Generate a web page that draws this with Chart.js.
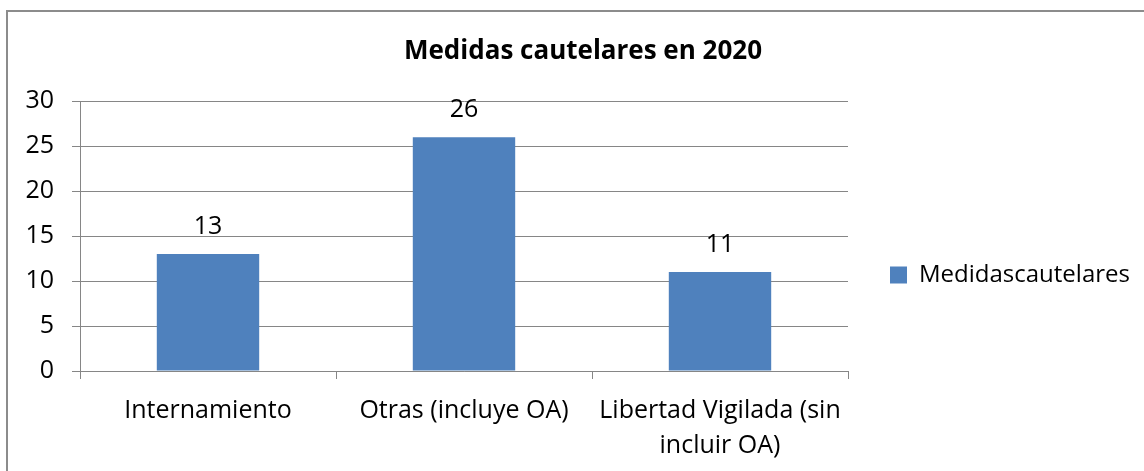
<!DOCTYPE html>
<html><head><meta charset="utf-8">
<script src="https://cdn.jsdelivr.net/npm/chart.js@4.4.1/dist/chart.umd.min.js"></script>
<style>
html,body{margin:0;padding:0;background:#fff;overflow:hidden;width:1144px;height:471px;}
#wrap{position:absolute;left:0;top:0;width:1200px;height:560px;}
#frame{position:absolute;left:6px;top:10px;width:1200px;height:520px;border:2px solid #8c8c8c;pointer-events:none;}
</style></head><body>
<div id="wrap"><canvas id="c" width="1200" height="560"></canvas></div>
<div id="frame"></div>
<script>
const chartTitle = 'Medidas cautelares en 2020';
const categories = ['Internamiento', 'Otras (incluye OA)', ['Libertad Vigilada (sin', 'incluir OA)']];
const seriesName = 'Medidascautelares';
const values = [13, 26, 11];
const yMin = 0, yMax = 30, yStep = 5;

const FONT = '"Open Sans", "Noto Sans", sans-serif';
const GRID = '#868686';
const TICK_SIZE = 25, LEGEND_SIZE = 24, BOX = 17, LEG_PAD = 42;

// layout targets (canvas px)
const CANVAS_W = 1200;
const PLOT_LEFT = 80, PLOT_RIGHT = 848, TITLE_CENTER = 583;

const mctx = document.createElement('canvas').getContext('2d');
mctx.font = LEGEND_SIZE + 'px ' + FONT;
const legendTextW = mctx.measureText(seriesName).width;
mctx.font = TICK_SIZE + 'px ' + FONT;
const widestY = mctx.measureText(String(yMax)).width;

const legendW = LEG_PAD + BOX + LEGEND_SIZE / 2 + legendTextW + 2;
const rightEdge = PLOT_RIGHT + legendW;          // W - R
const padRight = CANVAS_W - rightEdge;
const padLeft = 2 * TITLE_CENTER - rightEdge;    // centers title
const yAxisW = PLOT_LEFT - padLeft;

const valueLabels = {
  id: 'valueLabels',
  afterDatasetsDraw(chart) {
    const ctx = chart.ctx;
    const meta = chart.getDatasetMeta(0);
    const data = chart.data.datasets[0].data;
    ctx.save();
    ctx.font = TICK_SIZE + 'px ' + FONT;
    ctx.fillStyle = '#000';
    ctx.textAlign = 'center';
    ctx.textBaseline = 'middle';
    meta.data.forEach((bar, i) => {
      ctx.fillText(String(data[i]), bar.x, bar.y - 27);
    });
    ctx.restore();
  }
};

new Chart(document.getElementById('c'), {
  type: 'bar',
  data: {
    labels: categories,
    datasets: [{
      label: seriesName,
      data: values,
      backgroundColor: '#4F81BD',
      borderWidth: 0,
      barPercentage: 0.4,
      categoryPercentage: 1.0
    }]
  },
  options: {
    responsive: false,
    animation: false,
    devicePixelRatio: 1,
    layout: { padding: { left: padLeft, right: padRight, top: 0, bottom: 10 } },
    plugins: {
      title: {
        display: true,
        text: chartTitle,
        color: '#000',
        font: { family: FONT, size: 26, weight: 'bold', lineHeight: 1.2 },
        padding: { top: 36, bottom: 34 }
      },
      legend: {
        display: true,
        position: 'right',
        align: 'center',
        maxWidth: legendW,
        labels: {
          boxWidth: BOX,
          boxHeight: BOX,
          padding: LEG_PAD,
          color: '#000',
          font: { family: FONT, size: LEGEND_SIZE }
        }
      },
      tooltip: { enabled: false }
    },
    scales: {
      x: {
        type: 'category',
        offset: true,
        grid: { offset: true, drawOnChartArea: false, drawTicks: true, tickLength: 8, color: GRID },
        border: { color: GRID },
        ticks: { color: '#000', font: { family: FONT, size: TICK_SIZE, lineHeight: 1.42 }, padding: 14, maxRotation: 0, autoSkip: false },
        afterFit(s) { s.height = 179; }
      },
      y: {
        min: yMin,
        max: yMax,
        grid: { color: GRID, tickLength: 8 },
        border: { color: GRID },
        ticks: {
          stepSize: yStep, color: '#000', font: { family: FONT, size: TICK_SIZE },
          mirror: true, crossAlign: 'far', padding: -(8 + 18 + widestY)
        },
        afterFit(s) { s.width = yAxisW; }
      }
    }
  },
  plugins: [valueLabels]
});
</script>
</body></html>
